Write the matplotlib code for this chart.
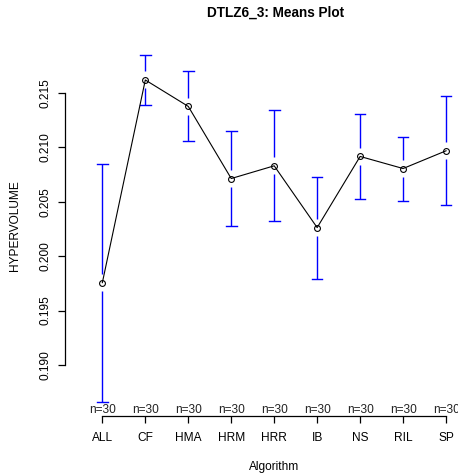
import numpy as np
import matplotlib
matplotlib.use("Agg")
import matplotlib.pyplot as plt

plt.rcParams["font.family"] = ["Liberation Sans", "DejaVu Sans"]

algorithms = ["ALL", "CF", "HMA", "HRM", "HRR", "IB", "NS", "RIL", "SP"]
means = [0.19757, 0.21620, 0.21377, 0.20714, 0.20831, 0.20263, 0.20917, 0.20806, 0.20969]
upper = [0.20852, 0.21846, 0.21699, 0.21147, 0.21340, 0.20730, 0.21303, 0.21098, 0.21469]
lower = [0.18656, 0.21392, 0.21055, 0.20279, 0.20322, 0.19791, 0.20524, 0.20509, 0.20469]
counts = [30, 30, 30, 30, 30, 30, 30, 30, 30]
y_ticks = [0.190, 0.195, 0.200, 0.205, 0.210, 0.215]

W, H = 458, 475
fig = plt.figure(figsize=(W / 100, H / 100), dpi=100)

# plot region in pixels (R style, runs off the right edge)
left, right, top, bottom = 65.4, 483.0, 41.5, 416.3
ax = fig.add_axes([left / W, 1 - bottom / H, (right - left) / W, (bottom - top) / H])

x = np.arange(1, len(algorithms) + 1)
n = len(algorithms)
ax.set_xlim(0.5 - 0.04 * n, n + 0.5 + 0.04 * n)
lo, hi = min(lower), max(upper)
pad = 0.04 * (hi - lo)
ax.set_ylim(lo - pad, hi + pad)

# gap around the points for the error bars (in pixels -> data)
px_per_unit = (bottom - top) / (hi - lo + 2 * pad)
gap = 8.5 / px_per_unit
cap = 5.3 / ((right - left) / (n + 0.08 * n))

for xi, m, u, l in zip(x, means, upper, lower):
    if u - m > gap:
        ax.plot([xi, xi], [m + gap, u], color="blue", lw=1.0, solid_capstyle="butt")
    if m - l > gap:
        ax.plot([xi, xi], [l, m - gap], color="blue", lw=1.0, solid_capstyle="butt")
    ax.plot([xi - cap, xi + cap], [u, u], color="blue", lw=1.0)
    ax.plot([xi - cap, xi + cap], [l, l], color="blue", lw=1.0)

ax.plot(x, means, color="black", lw=0.8, marker="o", markersize=4.2,
        markerfacecolor="none", markeredgecolor="black", markeredgewidth=0.8,
        zorder=3)

for xi, c in zip(x, counts):
    ax.text(xi, lo - pad, f"n={c}", ha="center", va="bottom",
            fontsize=8.6, color="#222222")

ax.spines["top"].set_visible(False)
ax.spines["right"].set_visible(False)
ax.spines["left"].set_bounds(y_ticks[0], y_ticks[-1])
ax.spines["bottom"].set_bounds(x[0], x[-1])
for s in ("left", "bottom"):
    ax.spines[s].set_linewidth(0.9)

ax.set_xticks(x)
ax.set_xticklabels(algorithms)
ax.set_yticks(y_ticks)
ax.set_yticklabels([f"{t:.3f}" for t in y_ticks], rotation=90, va="center")
ax.tick_params(axis="both", direction="out", length=5, width=0.9,
               labelsize=8.6, colors="black")
ax.tick_params(axis="x", pad=6)
ax.tick_params(axis="y", pad=5)

fig.text(274 / W, 1 - 467 / H, "Algorithm", ha="center", va="center", fontsize=8.6)
fig.text(15 / W, 1 - 226 / H, "HYPERVOLUME", ha="center", va="center",
         rotation=90, fontsize=8.6)

fig.text(276 / W, 1 - 13 / H, "DTLZ6_3: Means Plot", ha="center", va="center",
         fontsize=9.8, fontweight="bold")

fig.savefig("out.png", dpi=100)
